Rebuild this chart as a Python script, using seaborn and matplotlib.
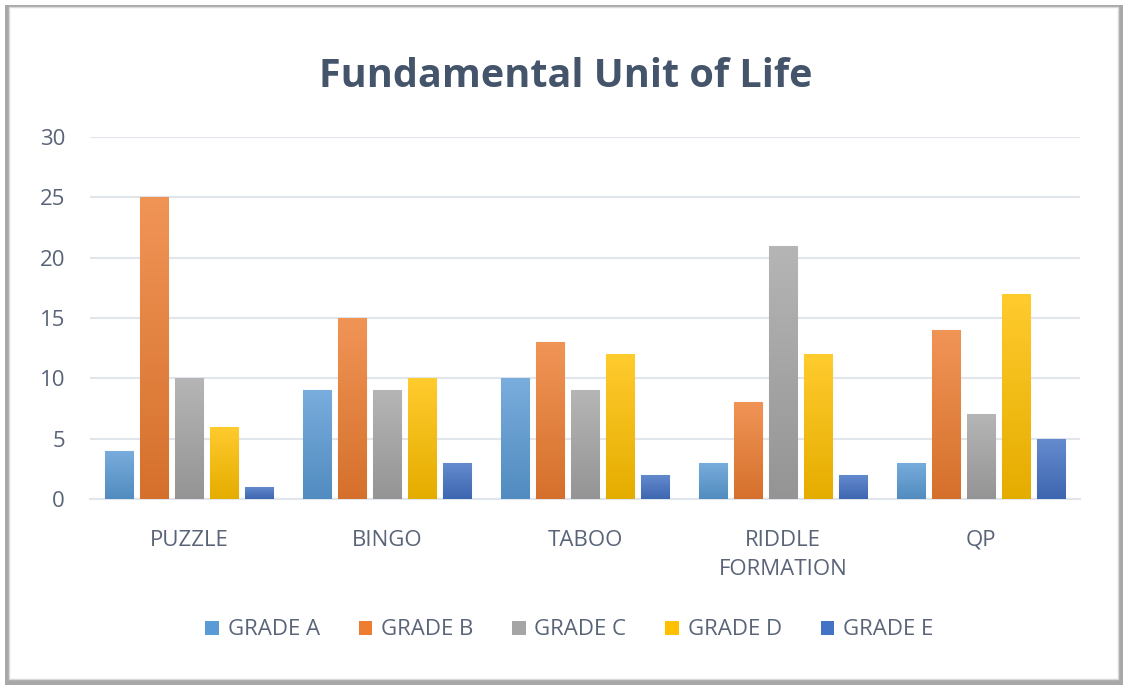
import matplotlib
matplotlib.use("Agg")
import matplotlib.pyplot as plt
import matplotlib.colors as mcolors
from matplotlib.patches import Rectangle, Patch
import numpy as np
import pandas as pd
import seaborn as sns

categories = ["PUZZLE", "BINGO", "TABOO", "RIDDLE\nFORMATION", "QP"]
grades = ["GRADE A", "GRADE B", "GRADE C", "GRADE D", "GRADE E"]
grade_a = [4, 9, 10, 3, 3]
grade_b = [25, 15, 13, 8, 14]
grade_c = [10, 9, 9, 21, 7]
grade_d = [6, 10, 12, 12, 17]
grade_e = [1, 3, 2, 2, 5]
colors = ["#5B9BD5", "#ED7D31", "#A5A5A5", "#FFC000", "#4472C4"]

series = [grade_a, grade_b, grade_c, grade_d, grade_e]
rows = []
for g, vals in zip(grades, series):
    for c, v in zip(categories, vals):
        rows.append({"Activity": c, "Grade": g, "Count": v})
df = pd.DataFrame(rows)

sns.set_theme(style="white")
plt.rcParams["font.family"] = ["Open Sans", "DejaVu Sans"]

fig = plt.figure(figsize=(11.25, 6.87), dpi=100)
fig.patch.set_facecolor("white")

# chart frame with shadow
shadow = Rectangle((0.004, 0.003), 0.994, 0.99, transform=fig.transFigure,
                   facecolor="#A8A8A8", edgecolor="none", zorder=-2)
frame = Rectangle((0.008, 0.012), 0.986, 0.978, transform=fig.transFigure,
                  facecolor="white", edgecolor="#D9D9D9", linewidth=1, zorder=-1)
fig.patches.extend([shadow, frame])

ax = fig.add_axes([0.08, 0.2737, 0.88, 0.527])
ax.set_zorder(2)
ax.set_facecolor("none")
sns.barplot(data=df, x="Activity", y="Count", hue="Grade", order=categories,
            hue_order=grades, palette=colors, width=0.885, gap=0.2,
            legend=False, ax=ax, zorder=3)

# gradient fill on each bar
n = len(categories)
for i, patch in enumerate(list(ax.patches)):
    col = colors[i // n]
    rgb = np.array(mcolors.to_rgb(col))
    top = np.clip(rgb + (1 - rgb) * 0.18, 0, 1)
    bot = np.clip(rgb * 0.9, 0, 1)
    grad = np.linspace(0, 1, 64)[:, None]
    img = top[None, None, :] * (1 - grad[..., None]) + bot[None, None, :] * grad[..., None]
    x0, y0 = patch.get_x(), patch.get_y()
    w, h = patch.get_width(), patch.get_height()
    patch.set_edgecolor(mcolors.to_hex(np.clip(rgb + (1 - rgb) * 0.4, 0, 1)))
    patch.set_linewidth(0.8)
    im = ax.imshow(img, extent=[x0, x0 + w, y0, y0 + h], aspect="auto",
                   origin="upper", zorder=3.5, interpolation="bicubic")
    im.set_clip_path(patch)

ax.set_xlim(-0.5, 4.5)
ax.set_ylim(0, 30)
ax.set_yticks([0, 5, 10, 15, 20, 25, 30])
ax.yaxis.grid(True, color="#E1E5EC", linewidth=1.5, zorder=0)
ax.set_axisbelow(True)
for s in ["top", "right", "left"]:
    ax.spines[s].set_visible(False)
ax.spines["bottom"].set_color("#E1E5EC")
ax.spines["bottom"].set_linewidth(1.5)
ax.tick_params(axis="both", length=0, labelsize=16, labelcolor="#5A6478")
ax.tick_params(axis="x", pad=22)
ax.tick_params(axis="y", pad=18)
for lbl in ax.get_xticklabels():
    lbl.set_linespacing(1.55)
ax.set_xlabel("")
ax.set_ylabel("")

fig.text(0.503, 0.889, "Fundamental Unit of Life", ha="center", va="center",
         fontsize=28.5, fontweight="bold", color="#44546A")

handles = [Patch(facecolor=c, edgecolor="none") for c in colors]
fig.legend(handles, grades, loc="center", bbox_to_anchor=(0.506, 0.083), ncol=5,
           frameon=False, fontsize=16, labelcolor="#5A6478", handlelength=0.6,
           handleheight=0.6, handletextpad=0.4, columnspacing=1.75)

fig.savefig("out.png", dpi=100, facecolor="white")
